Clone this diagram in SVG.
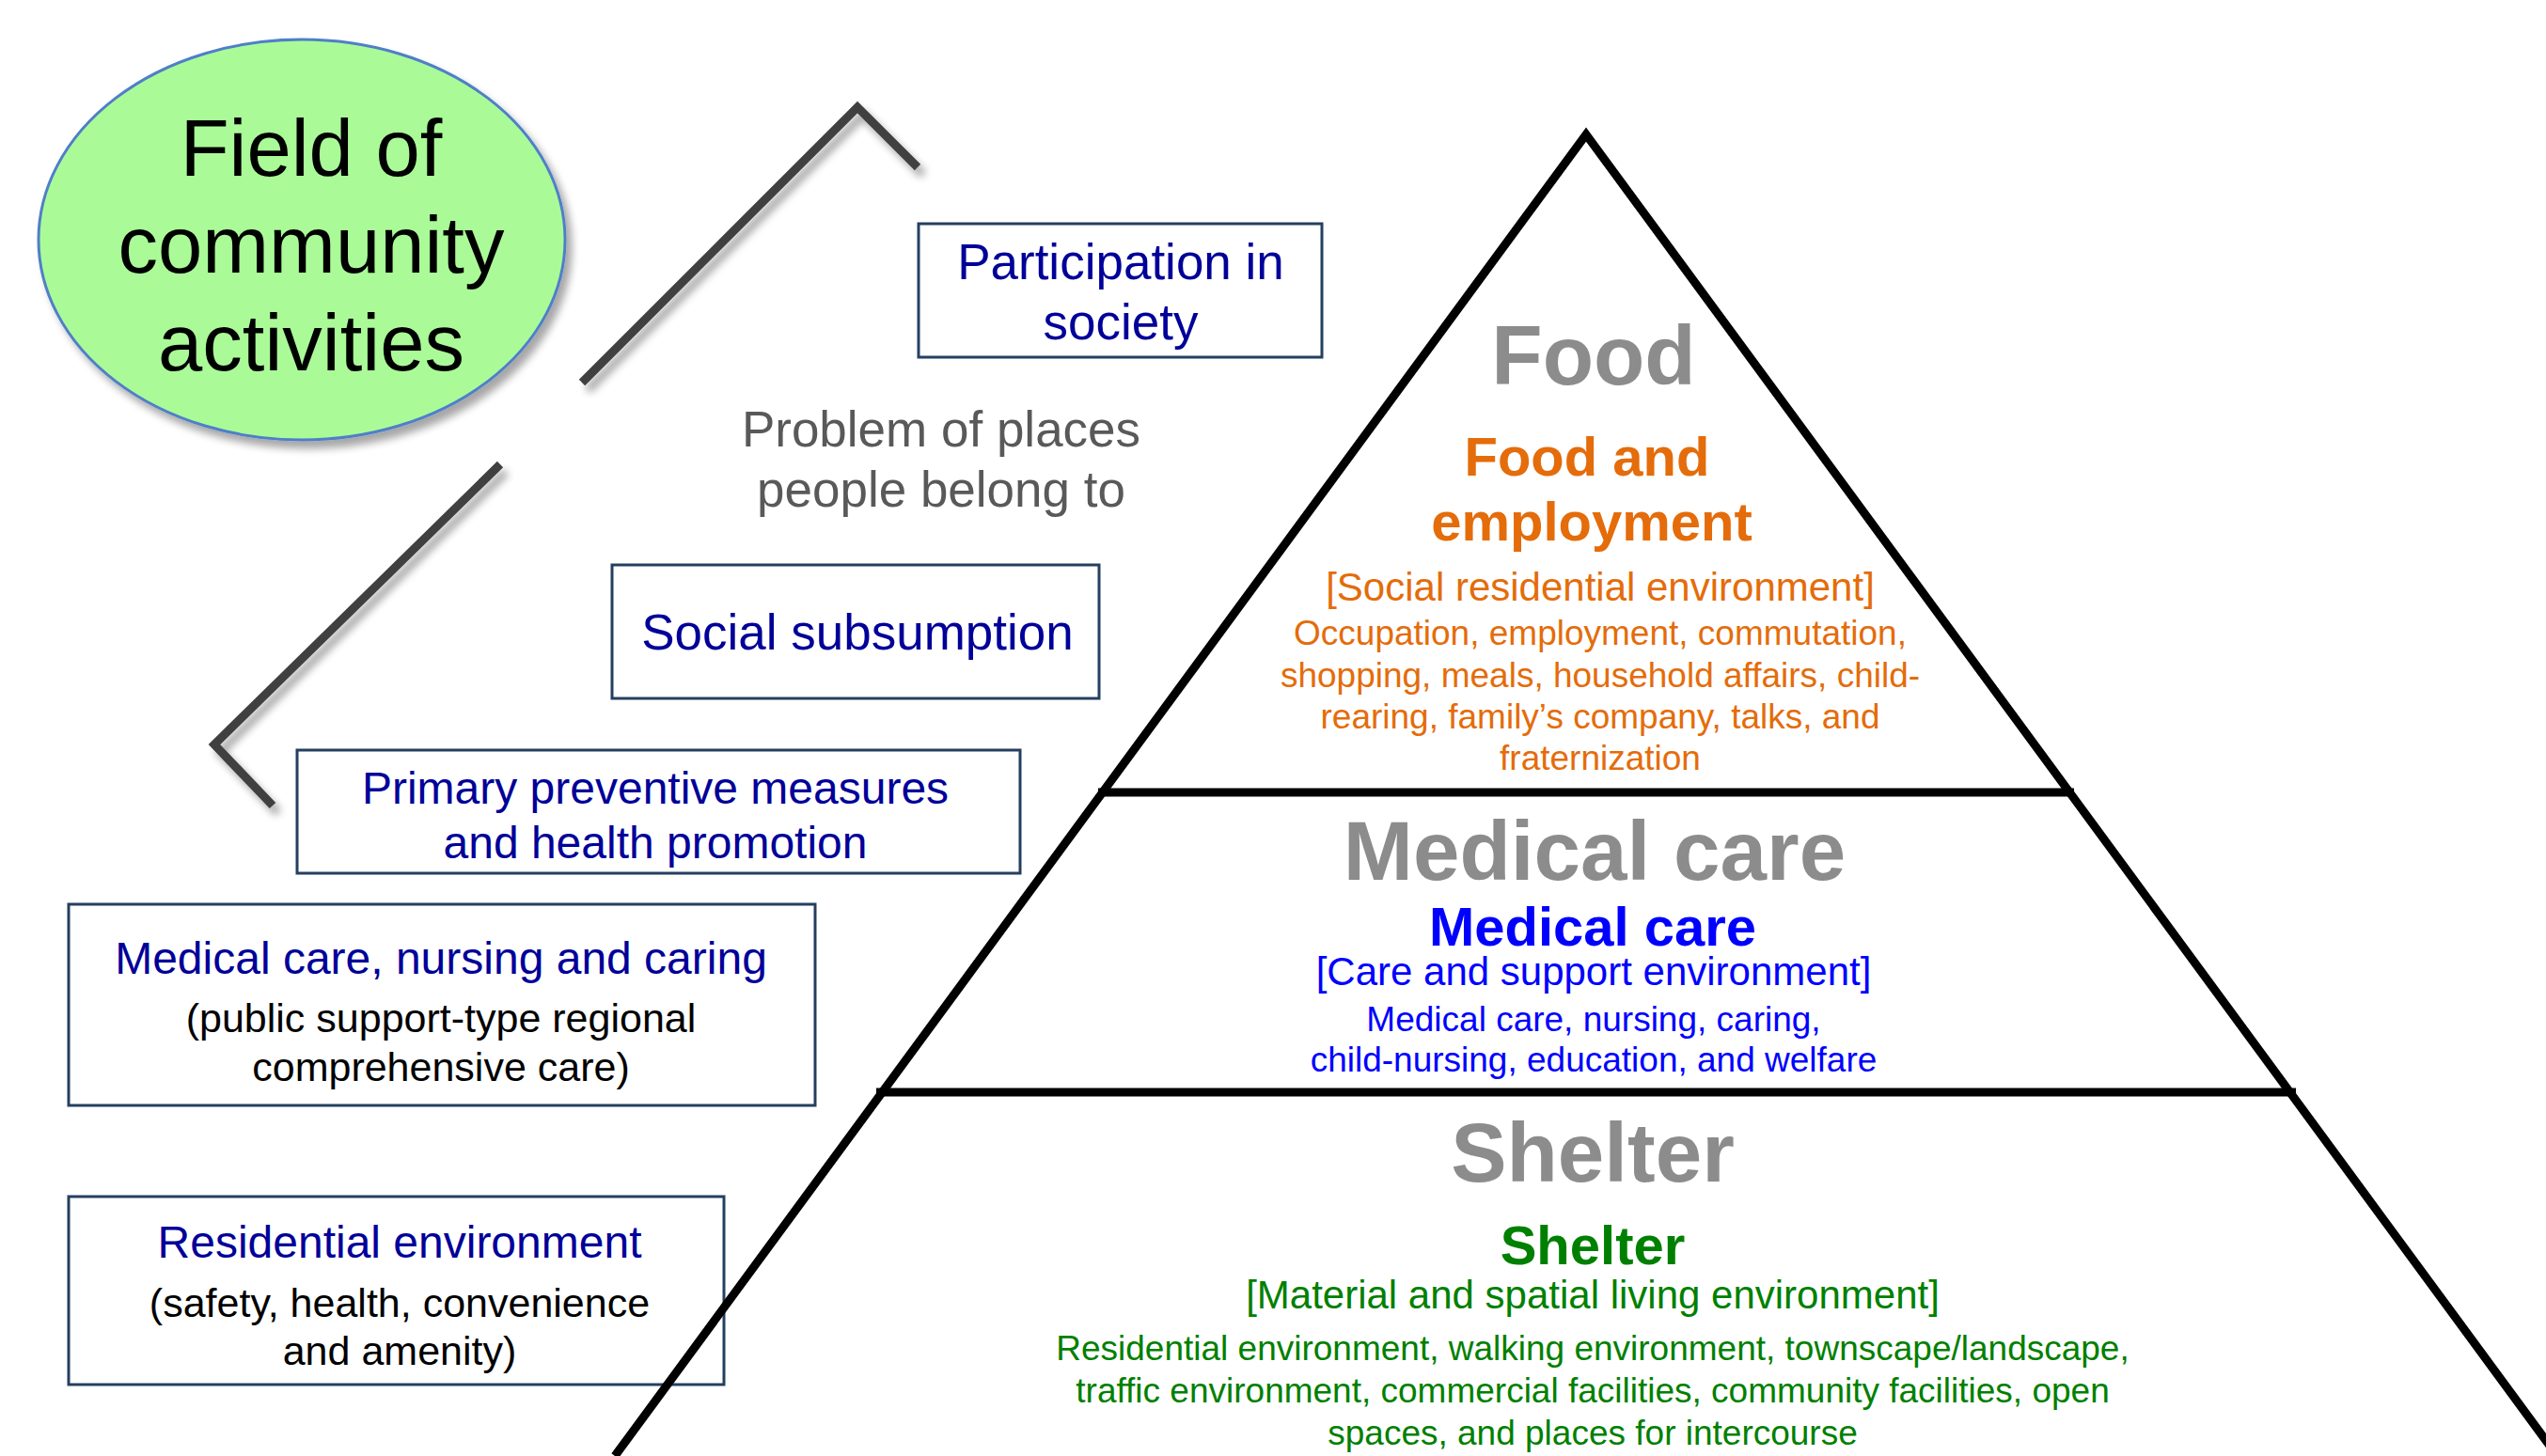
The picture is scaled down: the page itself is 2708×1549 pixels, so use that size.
<svg xmlns="http://www.w3.org/2000/svg" width="2708" height="1549" viewBox="0 0 2708 1549">
<defs>
<filter id="sh" x="-20%" y="-20%" width="140%" height="140%">
<feGaussianBlur in="SourceAlpha" stdDeviation="4"/>
<feOffset dx="6" dy="8" result="b"/>
<feComponentTransfer><feFuncA type="linear" slope="0.35"/></feComponentTransfer>
<feMerge><feMergeNode/><feMergeNode in="SourceGraphic"/></feMerge>
</filter>
</defs>
<style>
text{font-family:"Liberation Sans",Arial,sans-serif;text-anchor:middle}
.box{fill:#ffffff;stroke:#243f60;stroke-width:3}
.nv{fill:#000099;font-size:53px}
.nv48{fill:#000099;font-size:48px}
.blk43{fill:#000000;font-size:43px}
.gray{fill:#595959;font-size:53px}
.big{fill:#8c8c8c;font-size:89px;font-weight:bold}
.or{fill:#e46c0a}
.bl{fill:#0000ff}
.gr{fill:#008000}
.h2{font-size:58px;font-weight:bold}
.h3{font-size:42px}
.b{font-size:37px}
.tri{fill:none;stroke:#000000;stroke-width:9;stroke-linejoin:miter}
.house{fill:none;stroke:#404040;stroke-width:9}
</style>
<rect width="2708" height="1549" fill="#ffffff"/>

<g id="field">
<ellipse cx="321" cy="255" rx="280" ry="213" fill="#aafb98" stroke="#4f7fc8" stroke-width="3" filter="url(#sh)"/>
<text x="331" y="187" font-size="85" fill="#000">Field of</text>
<text x="331" y="290" font-size="85" fill="#000">community</text>
<text x="331" y="394" font-size="85" fill="#000">activities</text>
</g>

<g id="connectors" filter="url(#sh)">
<path class="house" d="M976,178 L912,114 L619,407"/>
<path class="house" d="M532,494 L228,792 L290,857"/>
</g>

<g id="participation">
<rect class="box" x="977" y="238" width="429" height="142"/>
<text class="nv" x="1192" y="297">Participation in</text>
<text class="nv" x="1192" y="361">society</text>
</g>

<g id="problem">
<text class="gray" x="1001" y="475">Problem of places</text>
<text class="gray" x="1001" y="539">people belong to</text>
</g>

<g id="subsumption">
<rect class="box" x="651" y="601" width="518" height="142"/>
<text class="nv" x="912" y="691">Social subsumption</text>
</g>

<g id="preventive">
<rect class="box" x="316" y="798" width="769" height="131"/>
<text class="nv48" x="697" y="855">Primary preventive measures</text>
<text class="nv48" x="697" y="913">and health promotion</text>
</g>

<g id="medicalbox">
<rect class="box" x="73" y="962" width="794" height="214"/>
<text class="nv48" x="469" y="1036">Medical care, nursing and caring</text>
<text class="blk43" x="469" y="1098">(public support-type regional</text>
<text class="blk43" x="469" y="1150">comprehensive care)</text>
</g>

<g id="residentialbox">
<rect class="box" x="73" y="1273" width="697" height="200"/>
<text class="nv48" x="425" y="1338">Residential environment</text>
<text class="blk43" x="425" y="1401">(safety, health, convenience</text>
<text class="blk43" x="425" y="1452">and amenity)</text>
</g>

<g id="pyramid">
<path class="tri" d="M654,1549 L1687,143 L2720,1549"/>
<line class="tri" x1="1168" y1="843" x2="2206" y2="843"/>
<line class="tri" x1="932" y1="1162" x2="2442" y2="1162"/>
</g>

<g id="food">
<text class="big" x="1695" y="409">Food</text>
<text class="or h2" x="1688" y="506">Food and</text>
<text class="or h2" x="1693" y="575">employment</text>
<text class="or h3" x="1702" y="639">[Social residential environment]</text>
<text class="or b" x="1702" y="686">Occupation, employment, commutation,</text>
<text class="or b" x="1702" y="731">shopping, meals, household affairs, child-</text>
<text class="or b" x="1702" y="775">rearing, family’s company, talks, and</text>
<text class="or b" x="1702" y="819">fraternization</text>
</g>

<g id="medical">
<text class="big" x="1696" y="936">Medical care</text>
<text class="bl h2" x="1694" y="1006">Medical care</text>
<text class="bl h3" x="1695" y="1048">[Care and support environment]</text>
<text class="bl b" x="1695" y="1097">Medical care, nursing, caring,</text>
<text class="bl b" x="1695" y="1140">child-nursing, education, and welfare</text>
</g>

<g id="shelter">
<text class="big" x="1694" y="1257">Shelter</text>
<text class="gr h2" x="1694" y="1345">Shelter</text>
<text class="gr h3" x="1694" y="1392">[Material and spatial living environment]</text>
<text class="gr b" x="1694" y="1447">Residential environment, walking environment, townscape/landscape,</text>
<text class="gr b" x="1694" y="1492">traffic environment, commercial facilities, community facilities, open</text>
<text class="gr b" x="1694" y="1537">spaces, and places for intercourse</text>
</g>
</svg>
